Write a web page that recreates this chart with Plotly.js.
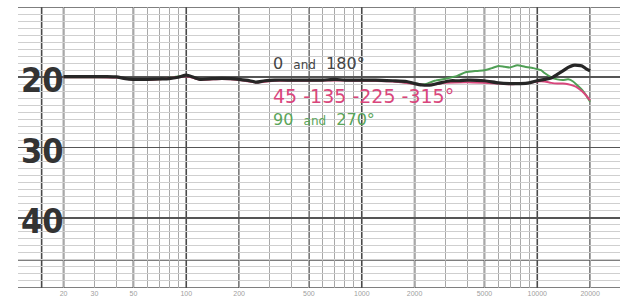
<!DOCTYPE html>
<html>
<head>
<meta charset="utf-8">
<script src="https://cdn.plot.ly/plotly-3.0.1.min.js"></script>
<style>html,body{margin:0;padding:0;background:#fff;}#chart{width:629px;height:304px;}</style>
</head>
<body>
<div id="chart"></div>
<script>
// Frequencies (Hz) and response levels (dB, axis reversed)
const freqBlack = [20,25,30,35,40,45,50,60,70,80,90,100,110,120,140,160,180,200,230,250,280,320,400,500,600,700,800,1000,1200,1500,1800,2000,2200,2500,2800,3200,3600,4000,5000,6000,7000,8000,9000,10000,11000,12000,13000,14000,15000,16000,17000,18000,19000,20000];
const dbBlack   = [19.9,19.9,19.9,19.9,19.95,20.2,20.3,20.3,20.25,20.2,20.0,19.7,20.0,20.3,20.2,20.15,20.2,20.3,20.5,20.7,20.5,20.4,20.4,20.4,20.4,20.3,20.4,20.4,20.4,20.5,20.6,20.9,21.1,21.1,20.8,20.5,20.5,20.4,20.5,20.8,20.9,20.9,20.8,20.5,20.3,20.1,19.6,19.1,18.6,18.3,18.3,18.4,18.8,19.1];

const freqPink = [20,30,40,50,70,100,120,160,200,250,320,500,800,1000,1500,2000,2300,2600,3000,4000,5000,6000,7000,8000,9000,10000,11000,12000,13000,14000,15000,16000,17000,18000,19000,20000];
const dbPink   = [20.0,20.0,20.05,20.35,20.3,19.85,20.35,20.25,20.4,20.75,20.5,20.5,20.45,20.5,20.6,20.95,21.1,21.0,20.8,20.7,20.8,20.9,21.0,20.9,20.8,20.6,20.6,20.8,20.9,20.9,21.0,21.2,21.5,22.0,22.6,23.3];

const freqGreen = [20,30,40,50,70,100,120,160,200,250,320,500,800,1000,1500,2000,2300,2600,3000,3500,3900,4500,5000,5500,6000,6500,7000,7700,8500,9500,10500,11000,12000,13000,14000,15000,16000,17000,18000,19000,20000];
const dbGreen   = [20.0,20.0,20.0,20.3,20.3,19.8,20.3,20.2,20.35,20.7,20.45,20.45,20.4,20.45,20.55,20.9,21.0,20.5,20.2,19.8,19.3,19.1,19.0,18.7,18.4,18.5,18.6,18.3,18.5,18.7,19.0,19.4,20.0,20.3,20.4,20.3,20.6,21.2,21.8,22.6,23.5];

const seriesNames = ["90 and 270°", "45-135-225-315°", "0 and 180°"];

// Axis labels
const xTickVals = [20,30,50,100,200,500,1000,2000,5000,10000,20000];
const xTickText = ["20","30","50","100","200","500","1000","2000","5000","10000","20000"];
const yTickVals = [20,30,40];
const yTickText = ["20","30","40"];
const xMajorGrid = [15,20,50,100,200,500,1000,2000,5000,10000,20000];
const yExtraGrid = [10,46,50];
const decades = [10,100,1000,10000];
const multipliers = [2,3,4,5,6,7,8,9];

const xMinorGrid = [];
decades.forEach(d => multipliers.forEach(m => xMinorGrid.push(d * m)));

const traces = [
  {x: freqGreen, y: dbGreen, name: seriesNames[0], mode: "lines", line: {color: "#4f9f55", width: 2, shape: "spline", smoothing: 0.6}},
  {x: freqPink, y: dbPink, name: seriesNames[1], mode: "lines", line: {color: "#d9467c", width: 2, shape: "spline", smoothing: 0.6}},
  {x: freqBlack, y: dbBlack, name: seriesNames[2], mode: "lines", line: {color: "#262626", width: 3.2, shape: "spline", smoothing: 0.6}}
];

const shapes = [];
xMajorGrid.forEach(f => shapes.push({type: "line", xref: "x", yref: "paper", x0: f, x1: f, y0: 0, y1: 1, line: {color: "#4a4a4a", width: 1.6}, layer: "below"}));
yExtraGrid.forEach(v => shapes.push({type: "line", xref: "paper", yref: "y", x0: 0, x1: 1, y0: v, y1: v, line: {color: "#555", width: 1.6}, layer: "below"}));

const labelX = Math.log10(304);
const sans = "DejaVu Sans, Liberation Sans, sans-serif";

const annotations = [
  {xref: "x", yref: "y", x: labelX, y: 18.0, xanchor: "left", yanchor: "middle", showarrow: false,
   text: "0  <span style='font-size:12px'>and</span>  180°", font: {family: sans, size: 16, color: "#444"}},
  {xref: "x", yref: "y", x: labelX, y: 22.7, xanchor: "left", yanchor: "middle", showarrow: false,
   text: "45 -135 -225 -315°", font: {family: sans, size: 19, color: "#d9467c"}},
  {xref: "x", yref: "y", x: labelX, y: 25.95, xanchor: "left", yanchor: "middle", showarrow: false,
   text: "90  <span style='font-size:12px'>and</span>  270°", font: {family: sans, size: 16, color: "#5aa55a"}}
];
yTickVals.forEach((v, i) => annotations.push({
  xref: "paper", yref: "y", x: 0, y: v, xanchor: "left", yanchor: "middle", xshift: 1, yshift: -3,
  showarrow: false, text: yTickText[i],
  font: {family: "DejaVu Sans Condensed, Liberation Sans Narrow, sans-serif", size: 34, color: "#333", weight: "bold"}
}));

const layout = {
  width: 629, height: 304,
  margin: {l: 18, r: 9, t: 7, b: 16},
  paper_bgcolor: "#fff", plot_bgcolor: "#fff",
  showlegend: false,
  xaxis: {
    type: "log", range: [Math.log10(11.0), Math.log10(29600)],
    tickvals: xTickVals, ticktext: xTickText, ticks: "",
    tickfont: {family: "Liberation Sans, sans-serif", size: 7, color: "#a0a0a0"},
    showgrid: false, zeroline: false, showline: false,
    minor: {tickmode: "array", tickvals: xMinorGrid, showgrid: true, gridcolor: "#a8a8a8", gridwidth: 1, ticks: ""}
  },
  yaxis: {
    range: [50, 10],
    tickvals: yTickVals, showticklabels: false, ticks: "", showline: false,
    showgrid: true, gridcolor: "#555", gridwidth: 1.6, zeroline: false,
    minor: {dtick: 1, showgrid: true, gridcolor: "#cfcfcf", gridwidth: 1, ticks: ""}
  },
  shapes: shapes,
  annotations: annotations
};

Plotly.newPlot("chart", traces, layout, {staticPlot: true, displayModeBar: false});
</script>
</body>
</html>
